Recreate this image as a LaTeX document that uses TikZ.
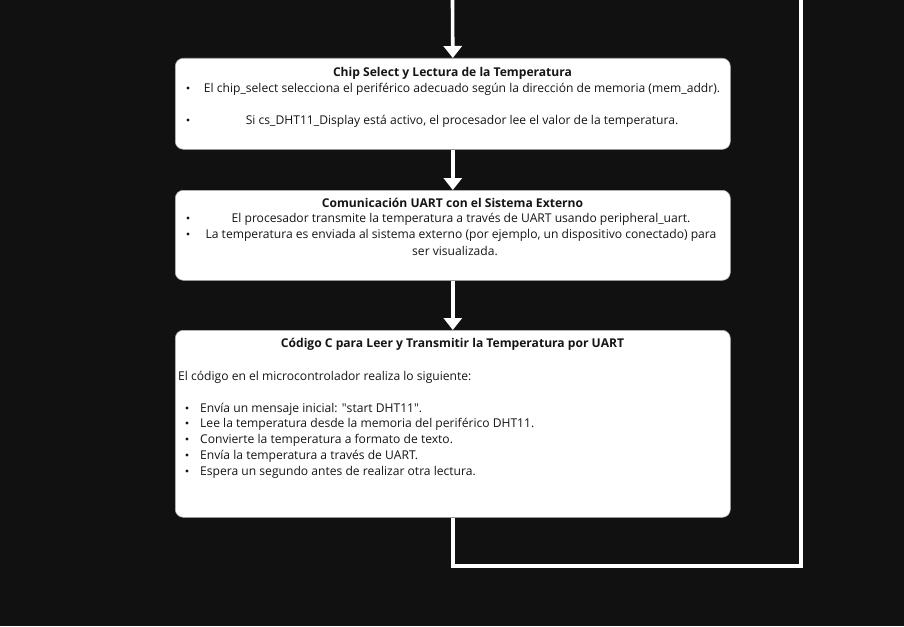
\documentclass[tikz,border=0pt]{standalone}
\usepackage{fontspec}
\setmainfont{Open Sans}
\usetikzlibrary{arrows.meta}
\definecolor{bgdark}{HTML}{111111}
\definecolor{inkdark}{HTML}{151515}

\begin{document}
\begin{tikzpicture}[%
      x=1pt, y=-1pt,
      box/.style={draw=gray!60, fill=white, rounded corners=8pt, line width=0.6pt, inner sep=0pt},
      flow/.style={draw=white, line width=3.6pt},
      arrowflow/.style={flow, -{Triangle[width=18pt,length=12pt]}},
      txt/.style={text=inkdark, font=\fontsize{12.1}{15}\selectfont, inner sep=0pt},
      hdr/.style={text=inkdark, font=\fontsize{12.1}{15}\selectfont\bfseries, inner sep=0pt},
      ]
      \fill [bgdark] (0,0) rectangle (904,626);
      \useasboundingbox (0,0) rectangle (904,626);

      \node [box, minimum width=555pt, minimum height=91pt, anchor=north west] (chip) at (175,58) {};
      \node [box, minimum width=555pt, minimum height=90pt, anchor=north west] (uart) at (175,190) {};
      \node [box, minimum width=555pt, minimum height=187pt, anchor=north west] (code) at (175,330) {};

      \coordinate (top) at (452.5,0);
      \coordinate (loopcorner) at (801,566);
      \coordinate (loopend) at (801,0);

      \draw [arrowflow] (top) -- (chip.north);
      \draw [arrowflow] (chip.south) -- (uart.north);
      \draw [arrowflow] (uart.south) -- (code.north);
      \draw [flow] (code.south) |- (loopcorner) -- (loopend);

      \node [hdr] (chiptitle) at (452.5,73) {Chip Select y Lectura de la Temperatura};
      \node [txt] (chipa) at (462,89) {El chip\_select selecciona el periférico adecuado según la dirección de memoria (mem\_addr).};
      \node [txt] (chipb) at (462,121) {Si cs\_DHT11\_Display está activo, el procesador lee el valor de la temperatura.};
      \fill [inkdark] (188,88) circle (1.6pt);
      \fill [inkdark] (188,120) circle (1.6pt);

      \node [hdr] (uarttitle) at (452.5,203) {Comunicación UART con el Sistema Externo};
      \node [txt] (uarta) at (461,219) {El procesador transmite la temperatura a través de UART usando peripheral\_uart.};
      \node [txt] (uartb) at (461,235) {La temperatura es enviada al sistema externo (por ejemplo, un dispositivo conectado) para};
      \node [txt] (uartc) at (455,251) {ser visualizada.};
      \fill [inkdark] (188,218) circle (1.6pt);
      \fill [inkdark] (188,234) circle (1.6pt);

      \node [hdr] (codetitle) at (452.5,344) {Código C para Leer y Transmitir la Temperatura por UART};
      \node [txt, anchor=west] (codeintro) at (178,377) {El código en el microcontrolador realiza lo siguiente:};
      \node [txt, anchor=west] (codea) at (200,409) {Envía un mensaje inicial: \textquotedbl start DHT11\textquotedbl.};
      \node [txt, anchor=west] (codeb) at (200,424) {Lee la temperatura desde la memoria del periférico DHT11.};
      \node [txt, anchor=west] (codec) at (200,440) {Convierte la temperatura a formato de texto.};
      \node [txt, anchor=west] (coded) at (200,456) {Envía la temperatura a través de UART.};
      \node [txt, anchor=west] (codee) at (200,472) {Espera un segundo antes de realizar otra lectura.};
      \fill [inkdark] (187,408) circle (1.6pt);
      \fill [inkdark] (187,423) circle (1.6pt);
      \fill [inkdark] (187,439) circle (1.6pt);
      \fill [inkdark] (187,455) circle (1.6pt);
      \fill [inkdark] (187,471) circle (1.6pt);
\end{tikzpicture}
\end{document}
